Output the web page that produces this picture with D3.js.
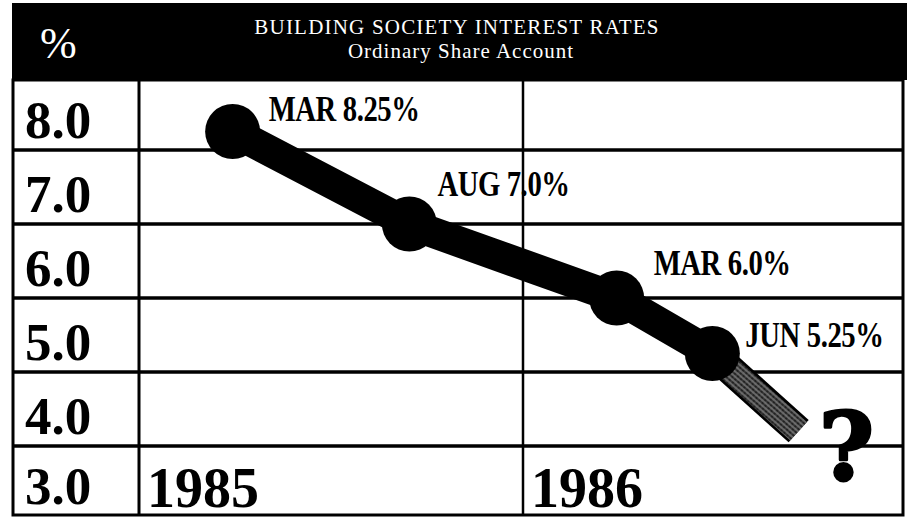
<!DOCTYPE html>
<html>
<head>
<meta charset="utf-8">
<script src="https://cdn.jsdelivr.net/npm/d3@7"></script>
<style>
  body { margin: 0; background: #fff; }
  svg { display: block; }
</style>
</head>
<body>
<div id="chart"></div>
<script>
// values
var title = 'BUILDING SOCIETY INTEREST RATES';
var subtitle = 'Ordinary Share Account';
var unitLabel = '%';

// dates estimated from where the drawn points sit between the year dividers
var rateDates = [new Date(1985, 2, 31), new Date(1985, 8, 15), new Date(1986, 2, 31), new Date(1986, 5, 30)];
var rateValues = [8.25, 7.0, 6.0, 5.25];
var rateLabels = ['MAR 8.25%', 'AUG 7.0%', 'MAR 6.0%', 'JUN 5.25%'];

// hatched "where next?" projection after the last known rate
var projDate = new Date(1986, 8, 20);
var projValue = 4.2;

var yTicks = [8, 7, 6, 5, 4, 3];
var yearTicks = [1985, 1986];

// layout
var W = 907, H = 518;
var frame = { left: 13, right: 903, top: 80, bottom: 515 };
var labelNudge = [[36, -11], [28, -28], [37, -23], [33, -7]];

var svg = d3.select('#chart').append('svg')
    .attr('width', W)
    .attr('height', H);

var xScale = d3.scaleTime()
    .domain([new Date(1985, 0, 1), new Date(1987, 0, 1)])
    .range([139, 907]);

var yScale = d3.scaleLinear()
    .domain([3, 8])
    .range([520, 150]);

var serif = '"Liberation Serif", "Times New Roman", serif';

// header band
svg.append('rect')
    .attr('x', 12).attr('y', 3)
    .attr('width', W - 12).attr('height', frame.top - 3)
    .attr('fill', '#000');

svg.append('text')
    .attr('x', 40).attr('y', 58)
    .attr('font-family', serif)
    .attr('font-size', 44)
    .attr('fill', '#fff')
    .text(unitLabel);

svg.append('text')
    .attr('x', 457).attr('y', 34)
    .attr('text-anchor', 'middle')
    .attr('font-family', serif)
    .attr('font-size', 21)
    .attr('letter-spacing', 1.2)
    .attr('fill', '#fff')
    .text(title);

svg.append('text')
    .attr('x', 461).attr('y', 58)
    .attr('text-anchor', 'middle')
    .attr('font-family', serif)
    .attr('font-size', 21)
    .attr('letter-spacing', 1)
    .attr('fill', '#fff')
    .text(subtitle);

// grid
var grid = svg.append('g');

grid.selectAll('line.h')
    .data(yTicks.filter(function(d){ return yScale(d) < frame.bottom; }))
    .enter()
    .append('line')
    .attr('x1', frame.left).attr('x2', frame.right)
    .attr('y1', function(d){ return yScale(d); })
    .attr('y2', function(d){ return yScale(d); })
    .attr('stroke', '#000')
    .attr('stroke-width', 3.5);

grid.selectAll('line.v')
    .data(yearTicks)
    .enter()
    .append('line')
    .attr('x1', function(d){ return xScale(new Date(d, 0, 1)); })
    .attr('x2', function(d){ return xScale(new Date(d, 0, 1)); })
    .attr('y1', frame.top).attr('y2', frame.bottom)
    .attr('stroke', '#000')
    .attr('stroke-width', function(d, i){ return i == 0 ? 3 : 2.5; });

grid.append('rect')
    .attr('x', frame.left).attr('y', frame.top)
    .attr('width', frame.right - frame.left)
    .attr('height', frame.bottom - frame.top)
    .attr('fill', 'none')
    .attr('stroke', '#000')
    .attr('stroke-width', 3);

// row labels sit just above their line
svg.selectAll('text.ytick')
    .data(yTicks)
    .enter()
    .append('text')
    .attr('x', 25)
    .attr('y', function(d){ return Math.min(yScale(d), frame.bottom + 1) - 12; })
    .attr('font-family', serif)
    .attr('font-weight', 'bold')
    .attr('font-size', 53)
    .attr('fill', '#000')
    .text(function(d){ return d.toFixed(1); });

svg.selectAll('text.year')
    .data(yearTicks)
    .enter()
    .append('text')
    .attr('x', function(d){ return xScale(new Date(d, 0, 1)) + 8; })
    .attr('y', 507)
    .attr('font-family', serif)
    .attr('font-weight', 'bold')
    .attr('font-size', 56)
    .attr('fill', '#000')
    .text(function(d){ return d; });

// hatch pattern for projection
var defs = svg.append('defs');
var pat = defs.append('pattern')
    .attr('id', 'hatch')
    .attr('patternUnits', 'userSpaceOnUse')
    .attr('width', 4).attr('height', 4)
    .attr('patternTransform', 'rotate(41)');
pat.append('rect')
    .attr('width', 4).attr('height', 4)
    .attr('fill', '#222');
pat.append('line')
    .attr('x1', 0).attr('x2', 4)
    .attr('y1', 2).attr('y2', 2)
    .attr('stroke', '#ccc')
    .attr('stroke-width', 0.8);
pat.append('line')
    .attr('x1', 2).attr('x2', 2)
    .attr('y1', 0).attr('y2', 4)
    .attr('stroke', '#888')
    .attr('stroke-width', 0.4);

var last = rateDates.length - 1;
var projPts = [[rateDates[last], rateValues[last]], [projDate, projValue]];

var line = d3.line()
    .x(function(d){ return xScale(d[0]); })
    .y(function(d){ return yScale(d[1]); });

svg.append('path')
    .attr('d', line(projPts))
    .attr('fill', 'none')
    .attr('stroke', '#000')
    .attr('stroke-width', 30);

svg.append('path')
    .attr('d', line(projPts))
    .attr('fill', 'none')
    .attr('stroke', 'url(#hatch)')
    .attr('stroke-width', 25);

svg.append('text')
    .attr('x', xScale(projDate) + 48)
    .attr('y', yScale(projValue) + 49)
    .attr('text-anchor', 'middle')
    .attr('font-family', '"DejaVu Serif", serif')
    .attr('font-weight', 'bold')
    .attr('font-size', 94)
    .attr('fill', '#000')
    .attr('stroke', '#000')
    .attr('stroke-width', 3)
    .attr('stroke-linejoin', 'round')
    .text('?');

// main rate line
var pts = rateDates.map(function(d, i){ return [d, rateValues[i]]; });

svg.append('path')
    .attr('d', line(pts))
    .attr('fill', 'none')
    .attr('stroke', '#000')
    .attr('stroke-width', 31)
    .attr('stroke-linejoin', 'round');

svg.selectAll('circle')
    .data(pts)
    .enter()
    .append('circle')
    .attr('cx', function(d){ return xScale(d[0]); })
    .attr('cy', function(d){ return yScale(d[1]); })
    .attr('r', 27.5)
    .attr('fill', '#000');

svg.selectAll('text.pt')
    .data(pts)
    .enter()
    .append('text')
    .attr('transform', function(d, i){
        var x = xScale(d[0]) + labelNudge[i][0];
        var y = yScale(d[1]) + labelNudge[i][1];
        return 'translate(' + x + ',' + y + ') scale(0.82,1)';
    })
    .attr('font-family', serif)
    .attr('font-weight', 'bold')
    .attr('font-size', 35)
    .attr('letter-spacing', -0.5)
    .attr('fill', '#000')
    .text(function(d, i){ return rateLabels[i]; });
</script>
</body>
</html>
